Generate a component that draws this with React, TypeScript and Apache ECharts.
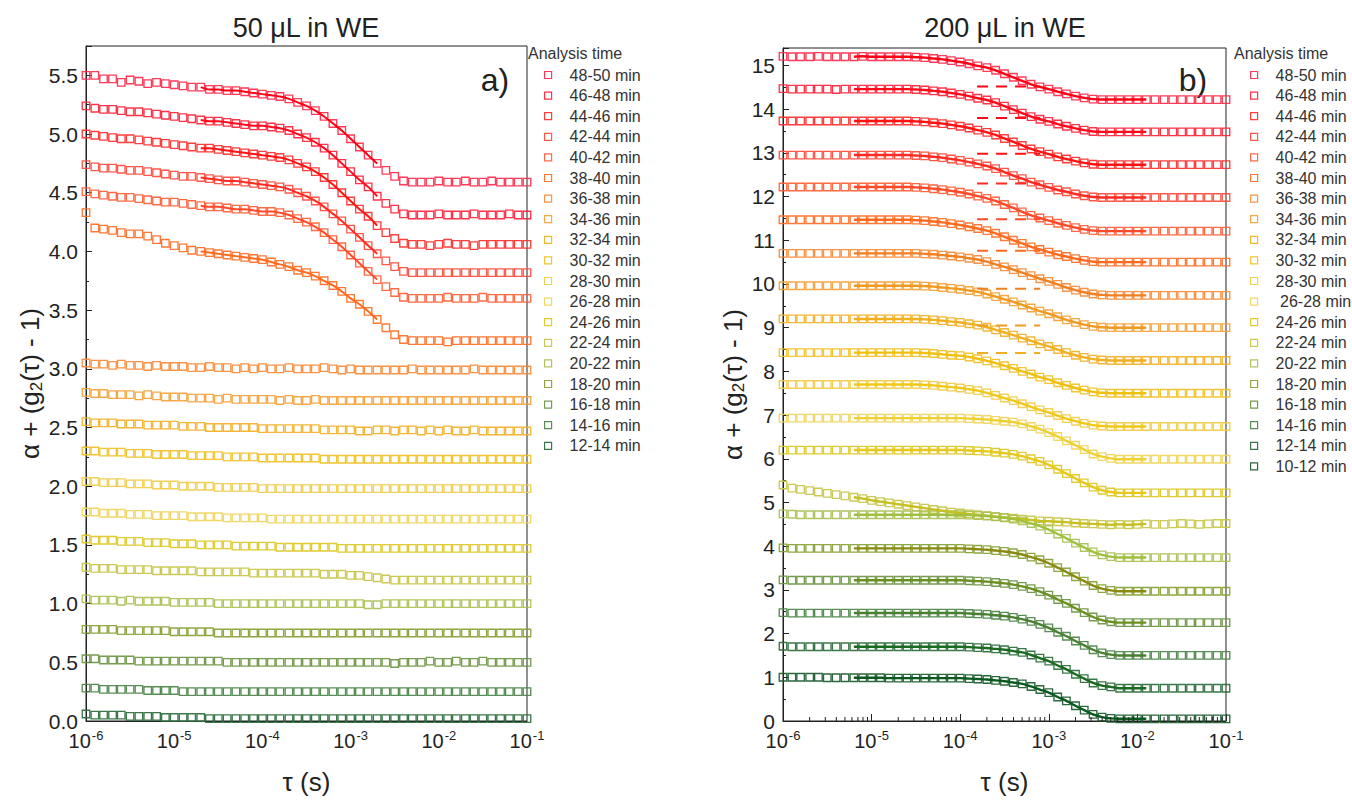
import React, { useEffect, useRef } from "react";
import * as echarts from "echarts";

const FONT = "'Liberation Sans', Arial, Helvetica, sans-serif";

// correlator delay times (s), 10 per decade
const TAU = [
  1.0e-6, 1.26e-6, 1.58e-6, 2.0e-6, 2.51e-6, 3.16e-6, 3.98e-6, 5.01e-6, 6.31e-6, 7.94e-6,
  1.0e-5, 1.26e-5, 1.58e-5, 2.0e-5, 2.51e-5, 3.16e-5, 3.98e-5, 5.01e-5, 6.31e-5, 7.94e-5,
  1.0e-4, 1.26e-4, 1.58e-4, 2.0e-4, 2.51e-4, 3.16e-4, 3.98e-4, 5.01e-4, 6.31e-4, 7.94e-4,
  1.0e-3, 1.26e-3, 1.58e-3, 2.0e-3, 2.51e-3, 3.16e-3, 3.98e-3, 5.01e-3, 6.31e-3, 7.94e-3,
  1.0e-2, 1.26e-2, 1.58e-2, 2.0e-2, 2.51e-2, 3.16e-2, 3.98e-2, 5.01e-2, 6.31e-2, 7.94e-2,
  1.0e-1,
];

const LEFT_NAMES = [
  "48-50 min", "46-48 min", "44-46 min", "42-44 min", "40-42 min", "38-40 min", "36-38 min",
  "34-36 min", "32-34 min", "30-32 min", "28-30 min", "26-28 min", "24-26 min", "22-24 min",
  "20-22 min", "18-20 min", "16-18 min", "14-16 min", "12-14 min",
];
const RIGHT_NAMES = [
  "48-50 min", "46-48 min", "44-46 min", "42-44 min", "40-42 min", "38-40 min", "36-38 min",
  "34-36 min", "32-34 min", "30-32 min", "28-30 min", " 26-28 min", "24-26 min", "22-24 min",
  "20-22 min", "18-20 min", "16-18 min", "14-16 min", "12-14 min", "10-12 min",
];

const MARK_COLORS = [
  "#ff2a4a", "#ff2238", "#ff2c2c", "#ff4a3c", "#ff5c34", "#ff6e24", "#f88a36", "#f5a036",
  "#f2b026", "#f0c022", "#f0cc46", "#f0d45a", "#dcc822", "#c8c446", "#a8c052", "#86a032",
  "#6a9442", "#4a8446", "#2a6c3a", "#1a5a2c",
];
const LINE_COLORS = [
  "#ff0014", "#ff0a1a", "#ff1212", "#ff2a20", "#ff4a2a", "#ff6a1e", "#f08020", "#f09a20",
  "#f0b020", "#f0c010", "#f0c818", "#f0d030", "#e8c818", "#c8c020", "#a0c040", "#8a8a10",
  "#6a9020", "#4a8030", "#1a6a20", "#0a5a20",
];

// ---------- 50 uL panel (a) ----------
const L4850 = [5.50, 5.50, 5.47, 5.47, 5.44, 5.46, 5.45, 5.43, 5.44, 5.43, 5.42, 5.41, 5.40, 5.40, 5.38, 5.38, 5.37, 5.37, 5.36, 5.35, 5.34, 5.33, 5.32, 5.30, 5.27, 5.24, 5.20, 5.15, 5.09, 5.03, 4.96, 4.89, 4.82, 4.75, 4.69, 4.64, 4.60, 4.59, 4.59, 4.59, 4.60, 4.59, 4.59, 4.60, 4.59, 4.59, 4.60, 4.59, 4.59, 4.59, 4.59];
const L4648 = [5.24, 5.22, 5.21, 5.21, 5.20, 5.19, 5.19, 5.18, 5.17, 5.16, 5.15, 5.14, 5.13, 5.12, 5.11, 5.11, 5.10, 5.09, 5.08, 5.07, 5.07, 5.06, 5.05, 5.03, 5.00, 4.97, 4.93, 4.88, 4.82, 4.75, 4.68, 4.61, 4.55, 4.47, 4.41, 4.36, 4.32, 4.31, 4.31, 4.31, 4.32, 4.31, 4.31, 4.31, 4.32, 4.31, 4.31, 4.31, 4.32, 4.31, 4.31];
const L4446 = [5.00, 4.99, 4.98, 4.97, 4.96, 4.96, 4.95, 4.94, 4.93, 4.92, 4.91, 4.90, 4.89, 4.88, 4.88, 4.87, 4.86, 4.85, 4.84, 4.83, 4.82, 4.81, 4.80, 4.78, 4.75, 4.72, 4.68, 4.63, 4.57, 4.50, 4.43, 4.36, 4.30, 4.22, 4.16, 4.11, 4.07, 4.06, 4.06, 4.05, 4.06, 4.07, 4.06, 4.06, 4.05, 4.06, 4.06, 4.06, 4.06, 4.06, 4.06];
const L4244 = [4.74, 4.72, 4.71, 4.71, 4.70, 4.69, 4.69, 4.68, 4.67, 4.66, 4.65, 4.64, 4.64, 4.63, 4.62, 4.61, 4.60, 4.60, 4.59, 4.58, 4.57, 4.56, 4.55, 4.53, 4.50, 4.47, 4.43, 4.38, 4.32, 4.26, 4.19, 4.12, 4.05, 3.98, 3.92, 3.87, 3.83, 3.82, 3.82, 3.82, 3.82, 3.82, 3.82, 3.82, 3.82, 3.82, 3.82, 3.82, 3.82, 3.82, 3.82];
const L4042 = [4.51, 4.49, 4.48, 4.47, 4.46, 4.46, 4.45, 4.44, 4.43, 4.42, 4.42, 4.41, 4.40, 4.39, 4.38, 4.38, 4.37, 4.36, 4.36, 4.35, 4.34, 4.34, 4.33, 4.31, 4.28, 4.25, 4.21, 4.16, 4.10, 4.04, 3.97, 3.90, 3.83, 3.76, 3.70, 3.65, 3.61, 3.60, 3.60, 3.60, 3.60, 3.61, 3.60, 3.60, 3.60, 3.61, 3.60, 3.60, 3.60, 3.60, 3.60];
const L3840 = [4.33, 4.20, 4.19, 4.18, 4.16, 4.15, 4.15, 4.13, 4.10, 4.07, 4.05, 4.03, 4.01, 4.00, 3.99, 3.98, 3.97, 3.96, 3.95, 3.94, 3.93, 3.91, 3.89, 3.87, 3.84, 3.82, 3.79, 3.75, 3.71, 3.66, 3.60, 3.55, 3.49, 3.42, 3.35, 3.29, 3.25, 3.24, 3.24, 3.24, 3.24, 3.23, 3.24, 3.24, 3.24, 3.24, 3.24, 3.24, 3.24, 3.24, 3.24];
const L3638 = [3.05, 3.04, 3.04, 3.03, 3.04, 3.03, 3.03, 3.02, 3.03, 3.02, 3.02, 3.02, 3.01, 3.01, 3.02, 3.01, 3.01, 3.00, 3.01, 3.00, 3.01, 3.00, 3.00, 3.01, 3.00, 3.00, 3.00, 3.01, 3.00, 2.99, 3.00, 2.99, 2.99, 2.99, 2.99, 2.99, 2.99, 3.00, 2.99, 2.99, 2.99, 2.99, 2.99, 2.99, 3.00, 2.99, 2.99, 2.99, 2.99, 2.99, 2.99];
const L3436 = [2.80, 2.79, 2.79, 2.78, 2.78, 2.78, 2.77, 2.78, 2.77, 2.76, 2.76, 2.76, 2.75, 2.75, 2.75, 2.74, 2.75, 2.74, 2.74, 2.74, 2.74, 2.74, 2.73, 2.74, 2.73, 2.73, 2.74, 2.73, 2.73, 2.73, 2.73, 2.73, 2.73, 2.73, 2.73, 2.73, 2.73, 2.73, 2.73, 2.73, 2.73, 2.73, 2.73, 2.73, 2.73, 2.73, 2.73, 2.73, 2.73, 2.73, 2.73];
const L3234 = [2.55, 2.54, 2.54, 2.54, 2.53, 2.53, 2.53, 2.52, 2.52, 2.52, 2.52, 2.51, 2.51, 2.51, 2.50, 2.50, 2.50, 2.50, 2.50, 2.50, 2.49, 2.49, 2.49, 2.49, 2.49, 2.49, 2.49, 2.48, 2.48, 2.48, 2.48, 2.47, 2.47, 2.48, 2.48, 2.47, 2.48, 2.48, 2.47, 2.48, 2.47, 2.48, 2.47, 2.47, 2.48, 2.47, 2.47, 2.47, 2.47, 2.47, 2.47];
const L3032 = [2.30, 2.30, 2.29, 2.29, 2.29, 2.28, 2.28, 2.28, 2.27, 2.27, 2.27, 2.27, 2.26, 2.26, 2.26, 2.26, 2.25, 2.25, 2.25, 2.25, 2.24, 2.24, 2.24, 2.24, 2.24, 2.24, 2.24, 2.23, 2.23, 2.23, 2.23, 2.23, 2.23, 2.23, 2.23, 2.23, 2.23, 2.23, 2.23, 2.23, 2.23, 2.23, 2.23, 2.23, 2.23, 2.23, 2.23, 2.23, 2.23, 2.23, 2.23];
const L2830 = [2.04, 2.04, 2.03, 2.03, 2.03, 2.02, 2.02, 2.02, 2.01, 2.01, 2.01, 2.00, 2.00, 2.00, 2.00, 1.99, 1.99, 1.99, 1.99, 1.99, 1.98, 1.98, 1.98, 1.98, 1.98, 1.98, 1.98, 1.98, 1.98, 1.98, 1.98, 1.98, 1.98, 1.98, 1.98, 1.98, 1.98, 1.98, 1.98, 1.98, 1.98, 1.98, 1.98, 1.98, 1.98, 1.98, 1.98, 1.98, 1.98, 1.98, 1.98];
const L2628 = [1.78, 1.78, 1.77, 1.77, 1.77, 1.76, 1.76, 1.76, 1.75, 1.75, 1.75, 1.75, 1.74, 1.74, 1.74, 1.74, 1.73, 1.73, 1.73, 1.73, 1.73, 1.72, 1.72, 1.72, 1.72, 1.72, 1.72, 1.72, 1.72, 1.72, 1.72, 1.72, 1.72, 1.72, 1.72, 1.72, 1.72, 1.72, 1.72, 1.72, 1.72, 1.72, 1.72, 1.72, 1.72, 1.72, 1.72, 1.72, 1.72, 1.72, 1.72];
const L2426 = [1.55, 1.54, 1.54, 1.54, 1.53, 1.53, 1.53, 1.52, 1.52, 1.52, 1.51, 1.51, 1.51, 1.50, 1.50, 1.50, 1.50, 1.49, 1.49, 1.49, 1.49, 1.49, 1.48, 1.48, 1.48, 1.48, 1.48, 1.48, 1.48, 1.47, 1.47, 1.47, 1.47, 1.47, 1.47, 1.47, 1.47, 1.47, 1.47, 1.47, 1.47, 1.47, 1.47, 1.47, 1.47, 1.47, 1.47, 1.47, 1.47, 1.47, 1.47];
const L2224 = [1.31, 1.30, 1.30, 1.30, 1.29, 1.29, 1.29, 1.29, 1.28, 1.28, 1.28, 1.28, 1.28, 1.27, 1.27, 1.27, 1.27, 1.27, 1.27, 1.26, 1.26, 1.26, 1.26, 1.26, 1.26, 1.26, 1.26, 1.25, 1.25, 1.25, 1.24, 1.24, 1.23, 1.22, 1.21, 1.20, 1.20, 1.20, 1.20, 1.20, 1.20, 1.20, 1.20, 1.20, 1.20, 1.20, 1.20, 1.20, 1.20, 1.20, 1.20];
const L2022 = [1.04, 1.03, 1.03, 1.03, 1.02, 1.03, 1.02, 1.02, 1.02, 1.02, 1.01, 1.01, 1.01, 1.01, 1.01, 1.00, 1.00, 1.00, 1.00, 1.00, 1.00, 1.00, 1.00, 1.00, 1.00, 1.00, 1.00, 1.00, 1.00, 1.00, 1.00, 1.00, 0.99, 0.99, 1.00, 1.00, 1.00, 1.00, 1.00, 1.00, 1.00, 1.00, 1.00, 1.00, 1.00, 1.00, 1.00, 1.00, 1.00, 1.00, 1.00];
const L1820 = [0.78, 0.78, 0.78, 0.78, 0.77, 0.77, 0.77, 0.77, 0.77, 0.77, 0.76, 0.76, 0.76, 0.76, 0.76, 0.75, 0.75, 0.75, 0.75, 0.75, 0.75, 0.75, 0.75, 0.75, 0.75, 0.75, 0.75, 0.75, 0.75, 0.75, 0.75, 0.75, 0.75, 0.75, 0.75, 0.75, 0.75, 0.75, 0.75, 0.75, 0.75, 0.75, 0.75, 0.75, 0.75, 0.75, 0.75, 0.75, 0.75, 0.75, 0.75];
const L1618 = [0.53, 0.53, 0.52, 0.52, 0.52, 0.52, 0.51, 0.51, 0.51, 0.51, 0.51, 0.51, 0.51, 0.51, 0.51, 0.51, 0.50, 0.50, 0.50, 0.50, 0.50, 0.50, 0.50, 0.50, 0.50, 0.50, 0.50, 0.50, 0.50, 0.50, 0.50, 0.50, 0.50, 0.50, 0.50, 0.49, 0.50, 0.50, 0.50, 0.51, 0.50, 0.50, 0.51, 0.50, 0.50, 0.51, 0.50, 0.50, 0.50, 0.50, 0.50];
const L1416 = [0.28, 0.28, 0.27, 0.27, 0.27, 0.27, 0.27, 0.26, 0.26, 0.26, 0.26, 0.25, 0.25, 0.25, 0.25, 0.25, 0.25, 0.25, 0.25, 0.25, 0.25, 0.25, 0.25, 0.25, 0.25, 0.25, 0.25, 0.25, 0.25, 0.25, 0.25, 0.25, 0.25, 0.25, 0.25, 0.25, 0.25, 0.25, 0.25, 0.25, 0.25, 0.25, 0.25, 0.25, 0.25, 0.25, 0.25, 0.25, 0.25, 0.25, 0.25];
const L1214 = [0.06, 0.05, 0.05, 0.05, 0.05, 0.04, 0.04, 0.04, 0.04, 0.03, 0.03, 0.03, 0.03, 0.03, 0.02, 0.02, 0.02, 0.02, 0.02, 0.02, 0.02, 0.02, 0.02, 0.02, 0.02, 0.02, 0.02, 0.02, 0.02, 0.02, 0.02, 0.02, 0.02, 0.02, 0.02, 0.02, 0.02, 0.02, 0.02, 0.02, 0.02, 0.02, 0.02, 0.02, 0.02, 0.02, 0.02, 0.02, 0.02, 0.02, 0.02];

const LEFT_Y = [L4850, L4648, L4446, L4244, L4042, L3840, L3638, L3436, L3234, L3032, L2830, L2628, L2426, L2224, L2022, L1820, L1618, L1416, L1214];
const LEFT_FIT_SERIES = [0, 1, 2, 3, 4, 5];
const LEFT_FIT_FROM = 13;
const LEFT_FIT_TO = 33;

// ---------- 200 uL panel (b) ----------
const R4850 = [15.21, 15.20, 15.20, 15.20, 15.21, 15.20, 15.20, 15.20, 15.20, 15.21, 15.20, 15.20, 15.20, 15.20, 15.20, 15.19, 15.18, 15.16, 15.14, 15.11, 15.08, 15.04, 14.99, 14.95, 14.89, 14.81, 14.73, 14.65, 14.57, 14.51, 14.46, 14.40, 14.35, 14.30, 14.26, 14.23, 14.22, 14.22, 14.22, 14.22, 14.22, 14.22, 14.22, 14.22, 14.22, 14.22, 14.22, 14.22, 14.22, 14.22, 14.22];
const R4648 = [14.47, 14.46, 14.46, 14.46, 14.46, 14.46, 14.45, 14.46, 14.46, 14.46, 14.46, 14.46, 14.46, 14.46, 14.46, 14.45, 14.44, 14.42, 14.40, 14.37, 14.34, 14.30, 14.25, 14.21, 14.15, 14.07, 13.99, 13.91, 13.83, 13.77, 13.72, 13.66, 13.61, 13.56, 13.52, 13.49, 13.48, 13.48, 13.48, 13.48, 13.48, 13.48, 13.48, 13.48, 13.48, 13.48, 13.48, 13.48, 13.48, 13.48, 13.48];
const R4446 = [13.73, 13.73, 13.73, 13.73, 13.73, 13.73, 13.73, 13.73, 13.73, 13.73, 13.73, 13.73, 13.73, 13.73, 13.73, 13.72, 13.71, 13.69, 13.67, 13.64, 13.61, 13.57, 13.52, 13.47, 13.41, 13.33, 13.25, 13.17, 13.09, 13.03, 12.97, 12.91, 12.86, 12.81, 12.77, 12.74, 12.73, 12.73, 12.73, 12.73, 12.73, 12.73, 12.73, 12.73, 12.73, 12.73, 12.73, 12.73, 12.73, 12.73, 12.73];
const R4244 = [12.95, 12.95, 12.95, 12.95, 12.95, 12.95, 12.95, 12.95, 12.95, 12.95, 12.95, 12.95, 12.95, 12.95, 12.95, 12.94, 12.93, 12.91, 12.89, 12.86, 12.83, 12.79, 12.75, 12.70, 12.64, 12.56, 12.48, 12.41, 12.33, 12.27, 12.21, 12.15, 12.11, 12.06, 12.02, 11.99, 11.98, 11.98, 11.98, 11.98, 11.98, 11.98, 11.98, 11.98, 11.98, 11.98, 11.98, 11.98, 11.98, 11.98, 11.98];
const R4042 = [12.22, 12.22, 12.22, 12.22, 12.22, 12.22, 12.22, 12.22, 12.22, 12.22, 12.22, 12.22, 12.22, 12.22, 12.22, 12.21, 12.20, 12.18, 12.16, 12.13, 12.10, 12.06, 12.01, 11.96, 11.90, 11.82, 11.74, 11.65, 11.57, 11.51, 11.45, 11.39, 11.34, 11.29, 11.25, 11.22, 11.21, 11.21, 11.21, 11.21, 11.21, 11.21, 11.21, 11.21, 11.21, 11.21, 11.21, 11.21, 11.21, 11.21, 11.21];
const R3840 = [11.47, 11.47, 11.47, 11.47, 11.47, 11.47, 11.47, 11.47, 11.47, 11.47, 11.47, 11.47, 11.47, 11.47, 11.47, 11.46, 11.45, 11.43, 11.41, 11.38, 11.35, 11.31, 11.27, 11.22, 11.16, 11.08, 11.00, 10.93, 10.85, 10.79, 10.73, 10.67, 10.63, 10.58, 10.54, 10.51, 10.50, 10.50, 10.50, 10.50, 10.50, 10.50, 10.50, 10.50, 10.50, 10.50, 10.50, 10.50, 10.50, 10.50, 10.50];
const R3638 = [10.70, 10.70, 10.70, 10.70, 10.70, 10.70, 10.70, 10.70, 10.70, 10.70, 10.70, 10.70, 10.70, 10.70, 10.70, 10.70, 10.69, 10.68, 10.66, 10.64, 10.62, 10.59, 10.56, 10.51, 10.45, 10.39, 10.33, 10.26, 10.19, 10.12, 10.06, 9.99, 9.92, 9.86, 9.81, 9.77, 9.75, 9.74, 9.74, 9.74, 9.74, 9.74, 9.74, 9.74, 9.74, 9.74, 9.74, 9.74, 9.74, 9.74, 9.74];
const R3436 = [9.96, 9.96, 9.96, 9.96, 9.96, 9.96, 9.96, 9.96, 9.96, 9.96, 9.96, 9.96, 9.96, 9.96, 9.96, 9.96, 9.95, 9.94, 9.92, 9.90, 9.88, 9.85, 9.82, 9.77, 9.71, 9.65, 9.59, 9.52, 9.45, 9.38, 9.32, 9.25, 9.18, 9.12, 9.07, 9.03, 9.01, 9.00, 9.00, 9.00, 9.00, 9.00, 9.00, 9.00, 9.00, 9.00, 9.00, 9.00, 9.00, 9.00, 9.00];
const R3234 = [9.20, 9.20, 9.20, 9.20, 9.20, 9.20, 9.20, 9.20, 9.20, 9.20, 9.20, 9.20, 9.20, 9.20, 9.20, 9.20, 9.19, 9.18, 9.16, 9.14, 9.12, 9.09, 9.06, 9.01, 8.95, 8.89, 8.83, 8.76, 8.70, 8.63, 8.57, 8.50, 8.43, 8.37, 8.32, 8.28, 8.26, 8.25, 8.25, 8.25, 8.25, 8.25, 8.25, 8.25, 8.25, 8.25, 8.25, 8.25, 8.25, 8.25, 8.25];
const R3032 = [8.43, 8.43, 8.43, 8.43, 8.43, 8.43, 8.43, 8.43, 8.43, 8.43, 8.43, 8.43, 8.43, 8.43, 8.43, 8.43, 8.42, 8.41, 8.39, 8.37, 8.36, 8.33, 8.29, 8.24, 8.19, 8.13, 8.07, 8.00, 7.94, 7.87, 7.81, 7.74, 7.68, 7.62, 7.57, 7.53, 7.51, 7.50, 7.50, 7.50, 7.50, 7.50, 7.50, 7.50, 7.50, 7.50, 7.50, 7.50, 7.50, 7.50, 7.50];
const R2830 = [7.70, 7.70, 7.70, 7.70, 7.70, 7.70, 7.70, 7.70, 7.70, 7.70, 7.70, 7.70, 7.70, 7.70, 7.70, 7.70, 7.69, 7.68, 7.66, 7.64, 7.62, 7.59, 7.56, 7.51, 7.45, 7.39, 7.33, 7.26, 7.19, 7.12, 7.06, 6.99, 6.92, 6.86, 6.81, 6.77, 6.75, 6.74, 6.74, 6.74, 6.74, 6.74, 6.74, 6.74, 6.74, 6.74, 6.74, 6.74, 6.74, 6.74, 6.74];
const R2628 = [6.93, 6.93, 6.93, 6.93, 6.93, 6.93, 6.93, 6.93, 6.93, 6.93, 6.93, 6.93, 6.93, 6.93, 6.93, 6.93, 6.93, 6.93, 6.93, 6.93, 6.93, 6.92, 6.91, 6.90, 6.88, 6.86, 6.84, 6.80, 6.74, 6.68, 6.60, 6.51, 6.41, 6.31, 6.21, 6.11, 6.05, 6.01, 5.99, 5.99, 5.99, 5.99, 5.99, 5.99, 5.99, 5.99, 5.99, 5.99, 5.99, 5.99, 5.99];
const R2426 = [6.20, 6.20, 6.20, 6.20, 6.20, 6.20, 6.20, 6.20, 6.20, 6.20, 6.20, 6.20, 6.20, 6.20, 6.20, 6.20, 6.20, 6.20, 6.20, 6.20, 6.20, 6.19, 6.18, 6.17, 6.15, 6.13, 6.10, 6.06, 6.00, 5.94, 5.86, 5.76, 5.66, 5.55, 5.45, 5.35, 5.28, 5.24, 5.22, 5.22, 5.22, 5.22, 5.22, 5.22, 5.22, 5.22, 5.22, 5.22, 5.22, 5.22, 5.22];
const R2224 = [5.40, 5.33, 5.30, 5.27, 5.24, 5.21, 5.18, 5.15, 5.12, 5.09, 5.05, 5.02, 4.99, 4.96, 4.93, 4.90, 4.87, 4.84, 4.81, 4.78, 4.76, 4.74, 4.72, 4.70, 4.68, 4.66, 4.64, 4.62, 4.60, 4.58, 4.57, 4.56, 4.55, 4.53, 4.52, 4.51, 4.50, 4.49, 4.50, 4.49, 4.50, 4.51, 4.50, 4.50, 4.51, 4.52, 4.51, 4.50, 4.51, 4.52, 4.52];
const R2022 = [4.74, 4.73, 4.72, 4.72, 4.72, 4.72, 4.72, 4.72, 4.72, 4.72, 4.72, 4.72, 4.72, 4.72, 4.72, 4.72, 4.72, 4.72, 4.72, 4.72, 4.72, 4.71, 4.70, 4.69, 4.67, 4.65, 4.62, 4.58, 4.52, 4.46, 4.38, 4.28, 4.18, 4.07, 3.97, 3.87, 3.80, 3.76, 3.74, 3.74, 3.74, 3.74, 3.74, 3.74, 3.74, 3.74, 3.74, 3.74, 3.74, 3.74, 3.74];
const R1820 = [3.96, 3.95, 3.95, 3.95, 3.95, 3.95, 3.95, 3.95, 3.95, 3.95, 3.95, 3.95, 3.95, 3.95, 3.95, 3.95, 3.95, 3.95, 3.95, 3.95, 3.95, 3.94, 3.93, 3.92, 3.90, 3.88, 3.85, 3.81, 3.75, 3.69, 3.61, 3.51, 3.41, 3.30, 3.20, 3.10, 3.03, 2.99, 2.97, 2.97, 2.97, 2.97, 2.97, 2.97, 2.97, 2.97, 2.97, 2.97, 2.97, 2.97, 2.97];
const R1618 = [3.23, 3.22, 3.22, 3.22, 3.22, 3.22, 3.22, 3.22, 3.22, 3.22, 3.22, 3.22, 3.22, 3.22, 3.22, 3.22, 3.22, 3.22, 3.22, 3.22, 3.22, 3.21, 3.20, 3.19, 3.17, 3.15, 3.12, 3.08, 3.03, 2.96, 2.88, 2.78, 2.69, 2.58, 2.48, 2.38, 2.31, 2.27, 2.25, 2.25, 2.25, 2.25, 2.25, 2.25, 2.25, 2.25, 2.25, 2.25, 2.25, 2.25, 2.25];
const R1416 = [2.48, 2.47, 2.47, 2.47, 2.47, 2.47, 2.47, 2.47, 2.47, 2.47, 2.47, 2.47, 2.47, 2.47, 2.47, 2.47, 2.47, 2.47, 2.47, 2.47, 2.47, 2.46, 2.45, 2.44, 2.42, 2.40, 2.37, 2.33, 2.28, 2.21, 2.13, 2.03, 1.94, 1.83, 1.73, 1.63, 1.56, 1.52, 1.50, 1.50, 1.50, 1.50, 1.50, 1.50, 1.50, 1.50, 1.50, 1.50, 1.50, 1.50, 1.50];
const R1214 = [1.71, 1.70, 1.70, 1.70, 1.70, 1.70, 1.70, 1.70, 1.70, 1.70, 1.70, 1.70, 1.70, 1.70, 1.70, 1.70, 1.70, 1.70, 1.70, 1.70, 1.70, 1.69, 1.68, 1.67, 1.65, 1.63, 1.60, 1.57, 1.51, 1.44, 1.37, 1.27, 1.18, 1.07, 0.97, 0.87, 0.81, 0.78, 0.75, 0.75, 0.75, 0.75, 0.75, 0.75, 0.75, 0.75, 0.75, 0.75, 0.75, 0.75, 0.75];
const R1012 = [1.00, 1.00, 1.00, 1.00, 1.00, 0.99, 0.99, 0.99, 0.99, 0.99, 0.99, 0.99, 0.98, 0.98, 0.98, 0.98, 0.98, 0.98, 0.98, 0.98, 0.98, 0.97, 0.96, 0.95, 0.93, 0.91, 0.88, 0.85, 0.79, 0.72, 0.65, 0.55, 0.46, 0.35, 0.25, 0.15, 0.09, 0.06, 0.05, 0.05, 0.05, 0.05, 0.05, 0.05, 0.05, 0.05, 0.05, 0.05, 0.05, 0.05, 0.05];

const RIGHT_Y = [R4850, R4648, R4446, R4244, R4042, R3840, R3638, R3436, R3234, R3032, R2830, R2628, R2426, R2224, R2022, R1820, R1618, R1416, R1214, R1012];
const RIGHT_FIT_FROM = 8;
const RIGHT_FIT_TO = 41;

// dashed guide segments in panel b
const DASH_LEVELS = [14.52, 13.80, 12.98, 12.30, 11.48, 10.76, 9.89, 9.05, 8.42];
const DASH_TAU = [1.55e-4, 8.0e-4];

// minor log ticks on panel b
const MINOR_MANT = [2, 3, 4, 5, 6, 7, 8, 9];
const DECADES = [1e-6, 1e-5, 1e-4, 1e-3, 1e-2];

const INK = "#222";

function xLabel(v: number) {
  const e = Math.round(Math.log10(v));
  return `{b|10}{s|${e}}`;
}
const X_RICH = {
  b: { fontSize: 20, color: INK, fontFamily: FONT, lineHeight: 24 },
  s: { fontSize: 13, color: INK, fontFamily: FONT, verticalAlign: "top", lineHeight: 24, padding: [0, 0, 8, 1] },
};
const Y_NAME = "{a|α + (g}{b|2}{a|(τ) - 1)}";
const Y_NAME_STYLE = {
  rich: {
    a: { fontSize: 26, color: INK, fontFamily: FONT },
    b: { fontSize: 17, color: INK, fontFamily: FONT, padding: [12, 0, 0, 0] },
  },
};

function buildOption() {
  const series: any[] = [];

  LEFT_Y.forEach((ys, k) => {
    series.push({
      type: "scatter",
      name: LEFT_NAMES[k],
      xAxisIndex: 0,
      yAxisIndex: 0,
      data: TAU.map((t, i) => [t, ys[i]]),
      symbol: "rect",
      symbolSize: 7.5,
      itemStyle: { color: "rgba(255,255,255,0)", borderColor: MARK_COLORS[k], borderWidth: 1.35, opacity: 0.92 },
      silent: true,
      z: 2,
    });
  });
  LEFT_FIT_SERIES.forEach((k) => {
    series.push({
      type: "line",
      name: "fit-a-" + k,
      xAxisIndex: 0,
      yAxisIndex: 0,
      data: TAU.slice(LEFT_FIT_FROM, LEFT_FIT_TO + 1).map((t, j) => [t, LEFT_Y[k][LEFT_FIT_FROM + j]]),
      showSymbol: false,
      symbol: "none",
      smooth: 0.3,
      lineStyle: { color: LINE_COLORS[k], width: 2 },
      silent: true,
      z: 3,
    });
  });

  RIGHT_Y.forEach((ys, k) => {
    series.push({
      type: "scatter",
      name: RIGHT_NAMES[k],
      xAxisIndex: 1,
      yAxisIndex: 1,
      data: TAU.map((t, i) => [t, ys[i]]),
      symbol: "rect",
      symbolSize: 7.5,
      itemStyle: { color: "rgba(255,255,255,0)", borderColor: MARK_COLORS[k], borderWidth: 1.35, opacity: 0.92 },
      silent: true,
      z: 2,
    });
    series.push({
      type: "line",
      name: "fit-b-" + k,
      xAxisIndex: 1,
      yAxisIndex: 1,
      data: TAU.slice(RIGHT_FIT_FROM, RIGHT_FIT_TO + 1).map((t, j) => [t, ys[RIGHT_FIT_FROM + j]]),
      showSymbol: false,
      symbol: "none",
      smooth: 0.3,
      lineStyle: { color: LINE_COLORS[k], width: 2.4 },
      silent: true,
      z: 3,
    });
  });

  DASH_LEVELS.forEach((lv, k) => {
    series.push({
      type: "line",
      name: "dash-b-" + k,
      xAxisIndex: 1,
      yAxisIndex: 1,
      data: DASH_TAU.map((t) => [t, lv]),
      showSymbol: false,
      symbol: "none",
      lineStyle: { color: LINE_COLORS[k], width: 2, type: [11, 8] },
      silent: true,
      z: 3,
    });
  });

  const minorTicks: number[][] = [];
  DECADES.forEach((d) => MINOR_MANT.forEach((m) => minorTicks.push([m * d, 0])));
  series.push({
    type: "custom",
    name: "minor-b",
    xAxisIndex: 1,
    yAxisIndex: 1,
    data: minorTicks,
    encode: { x: 0, y: 1 },
    silent: true,
    z: 5,
    renderItem: (_params: any, api: any) => {
      const p = api.coord([api.value(0), 0]);
      return {
        type: "line",
        shape: { x1: p[0], y1: p[1], x2: p[0], y2: p[1] - 4 },
        style: { stroke: INK, lineWidth: 1 },
      };
    },
  });

  const legendFor = (names: string[], left: number, top: number) => ({
    data: names.map((n, k) => ({
      name: n,
      icon: "rect",
      itemStyle: { color: "rgba(255,255,255,0)", borderColor: MARK_COLORS[k], borderWidth: 1.2 },
    })),
    orient: "vertical",
    left,
    top,
    padding: 0,
    itemWidth: 7,
    itemHeight: 7,
    itemGap: 4.6,
    selectedMode: false,
    textStyle: { fontSize: 16, color: "#333", fontFamily: FONT, padding: [0, 0, 0, 13] },
  });

  const axisLine = { show: true, lineStyle: { color: INK, width: 1 } };

  return {
    animation: false,
    backgroundColor: "#ffffff",
    grid: [
      { left: 86, top: 46, width: 441, height: 679, show: true, borderColor: INK, borderWidth: 1 },
      { left: 783, top: 48, width: 443, height: 679, show: true, borderColor: INK, borderWidth: 1 },
    ],
    xAxis: [
      {
        type: "log", gridIndex: 0, min: 1e-6, max: 1e-1, logBase: 10,
        axisLine, axisTick: { show: false }, splitLine: { show: false },
        axisLabel: { formatter: xLabel, rich: X_RICH, margin: 8 },
        name: "τ (s)", nameLocation: "middle", nameGap: 48,
        nameTextStyle: { fontSize: 26, color: INK, fontFamily: FONT },
      },
      {
        type: "log", gridIndex: 1, min: 1e-6, max: 1e-1, logBase: 10,
        axisLine, axisTick: { show: true, inside: true, length: 7, lineStyle: { color: INK } },
        splitLine: { show: false },
        axisLabel: { formatter: xLabel, rich: X_RICH, margin: 8 },
        name: "τ (s)", nameLocation: "middle", nameGap: 48,
        nameTextStyle: { fontSize: 26, color: INK, fontFamily: FONT },
      },
    ],
    yAxis: [
      {
        type: "value", gridIndex: 0, min: 0, max: 5.75, interval: 0.5,
        axisLine, splitLine: { show: false },
        axisTick: { show: true, inside: true, length: 6, lineStyle: { color: INK } },
        minorTick: { show: true, splitNumber: 2, length: 3, lineStyle: { color: INK } },
        axisLabel: { formatter: (v: number) => v.toFixed(1), showMaxLabel: false, fontSize: 21, color: INK, fontFamily: FONT, margin: 8 },
        name: Y_NAME, nameLocation: "middle", nameGap: 36, nameTextStyle: Y_NAME_STYLE,
      },
      {
        type: "value", gridIndex: 1, min: 0, max: 15.4, interval: 1,
        axisLine, splitLine: { show: false },
        axisTick: { show: true, inside: true, length: 6, lineStyle: { color: INK } },
        minorTick: { show: true, splitNumber: 2, length: 3, lineStyle: { color: INK } },
        axisLabel: { formatter: (v: number) => String(v), showMaxLabel: false, fontSize: 21, color: INK, fontFamily: FONT, margin: 8 },
        name: Y_NAME, nameLocation: "middle", nameGap: 36, nameTextStyle: Y_NAME_STYLE,
      },
    ],
    legend: [legendFor(LEFT_NAMES, 544, 67), legendFor(RIGHT_NAMES, 1250, 67)],
    graphic: [
      { type: "text", x: 306, y: 28, style: { text: "50 μL in WE", fontSize: 27, fontFamily: FONT, fill: INK, align: "center", verticalAlign: "middle" } },
      { type: "text", x: 1005, y: 28, style: { text: "200 μL in WE", fontSize: 27, fontFamily: FONT, fill: INK, align: "center", verticalAlign: "middle" } },
      { type: "text", x: 528, y: 53, style: { text: "Analysis time", fontSize: 16, fontFamily: FONT, fill: "#333", align: "left", verticalAlign: "middle" } },
      { type: "text", x: 1234, y: 53, style: { text: "Analysis time", fontSize: 16, fontFamily: FONT, fill: "#333", align: "left", verticalAlign: "middle" } },
      { type: "text", x: 495, y: 80, style: { text: "a)", fontSize: 32, fontFamily: FONT, fill: INK, align: "center", verticalAlign: "middle" } },
      { type: "text", x: 1193, y: 80, style: { text: "b)", fontSize: 32, fontFamily: FONT, fill: INK, align: "center", verticalAlign: "middle" } },
    ],
    series,
  };
}

export default function App() {
  const ref = useRef<HTMLDivElement>(null);
  useEffect(() => {
    document.body.style.margin = "0";
    const chart = echarts.init(ref.current as HTMLDivElement, null, { renderer: "svg" });
    chart.setOption(buildOption() as any);
    return () => chart.dispose();
  }, []);
  return <div ref={ref} style={{ width: 1352, height: 800 }} />;
}
